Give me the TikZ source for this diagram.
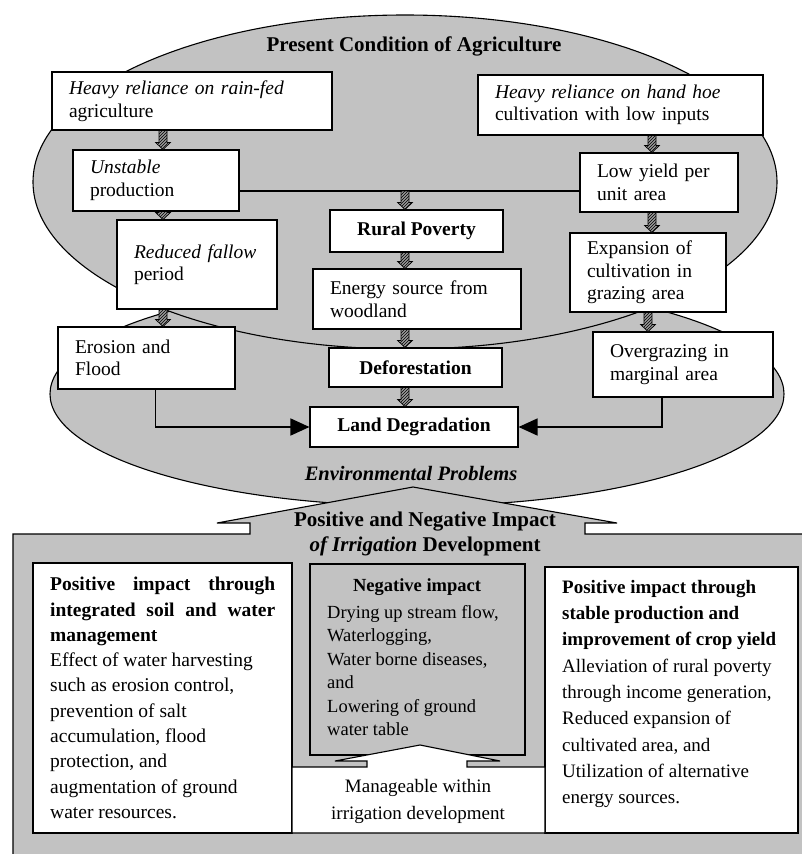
\documentclass[tikz,border=0pt]{standalone}
\usepackage{fontspec}
\setmainfont{Liberation Serif}
\usetikzlibrary{calc,arrows.meta,patterns}

\definecolor{stip}{gray}{0.76}

% short hatched block arrow pointing down, from point #1 to the height of point #2
\newcommand\harrow[2]{%
  \path let \p1=#1, \p2=#2 in
    [hatched] (\x1-4pt,\y1) -- (\x1+4pt,\y1) -- (\x1+4pt,\y2+7pt)
    -- (\x1+7.5pt,\y2+7pt) -- (\x1,\y2) -- (\x1-7.5pt,\y2+7pt)
    -- (\x1-4pt,\y2+7pt) -- cycle;}

\begin{document}
\begin{tikzpicture}[x=1pt,y=-1pt,
  zone/.style={fill=stip, draw=black, line width=1.1pt},
  box/.style={draw=black, fill=white, line width=1.1pt, inner xsep=17pt, inner ysep=0pt,
              align=left, font=\fontsize{19.5}{22.5}\selectfont},
  boldbox/.style={box, align=center, font=\fontsize{19.5}{22.5}\selectfont\bfseries},
  title/.style={inner sep=0pt, align=center, font=\fontsize{21}{25}\selectfont\bfseries},
  txt/.style={inner sep=0pt, anchor=north west, align=left},
  hatched/.style={draw=black, line width=0.7pt, preaction={fill=black!40},
                  pattern=north east lines, pattern color=black},
  bigarrow/.style={draw=black, line width=1.5pt, -{Triangle[length=19pt,width=17pt]}}]

\useasboundingbox (0,0) rectangle (802,854);
\clip (0,0) rectangle (802,854);

% --- background zones ---
\draw[zone] (417,394) ellipse [x radius=367pt, y radius=112pt];
\draw[zone] (405,182) ellipse [x radius=372pt, y radius=167pt];
\draw[zone] (13,880) -- (13,534) -- (250,534) -- (250,523) -- (217,523) -- (413,487)
  -- (617,523) -- (585,523) -- (585,534) -- (820,534) -- (820,880) -- cycle;

% --- titles ---
\node[title] (ttop) at (414,46) {Present Condition of Agriculture};
\node[title, font=\fontsize{20.5}{25}\selectfont\bfseries\itshape] (tenv) at (411,473) {Environmental Problems};
\node[title] (tirr) at (425,534) {Positive and Negative Impact\\\textit{of Irrigation} Development};

% --- present condition boxes ---
\node[box, minimum height=58pt, text width=246pt] (rain) at (192,101)
  {\textit{Heavy reliance on rain-fed}\\agriculture};
\node[box, minimum height=61pt, text width=132pt] (unstable) at (156,180.5)
  {\textit{Unstable}\\production};
\node[box, minimum height=89pt, text width=126pt] (fallow) at (197,264.5)
  {\textit{Reduced fallow}\\period};
\node[box, minimum height=60pt, text width=251pt] (hoe) at (620.5,105)
  {\textit{Heavy reliance on hand hoe}\\cultivation with low inputs};
\node[box, minimum height=59pt, text width=124pt] (lowyield) at (659,182.5)
  {Low yield per\\unit area};
\node[box, minimum height=79pt, text width=122pt] (expansion) at (648,272.5)
  {Expansion of\\cultivation in\\grazing area};
\node[boldbox, minimum height=42pt, minimum width=173pt] (rural) at (416.5,231) {Rural Poverty};
\node[box, minimum height=60pt, text width=174pt] (energy) at (417,299)
  {Energy source from\\woodland};
\node[boldbox, minimum height=39pt, minimum width=173pt] (defor) at (415.5,367.5) {Deforestation};
\node[boldbox, minimum height=40pt, minimum width=208pt] (land) at (414,427) {Land Degradation};
\node[box, minimum height=62pt, text width=143pt] (erosion) at (146.5,358)
  {Erosion and\\Flood};
\node[box, minimum height=65pt, text width=146pt] (overgraze) at (683,364.5)
  {Overgrazing in\\marginal area};

% --- connectors ---
\coordinate (split) at (405,191);
\draw[line width=1.5pt] (unstable.east |- split) -- (lowyield.west |- split);
\harrow{(split)}{(rural.north)}
\harrow{(rain.south -| 163,0)}{(unstable.north)}
\harrow{(unstable.south -| 163,0)}{(fallow.north)}
\harrow{(fallow.south -| 163,0)}{(erosion.north)}
\harrow{(hoe.south -| 652,0)}{(lowyield.north)}
\harrow{(lowyield.south -| 652,0)}{(expansion.north)}
\harrow{(expansion.south -| 648,0)}{(overgraze.north)}
\harrow{(rural.south -| 405,0)}{(energy.north)}
\harrow{(energy.south -| 405,0)}{(defor.north)}
\harrow{(defor.south -| 405,0)}{(land.north)}
\draw[bigarrow] ([xshift=9pt]erosion.south) |- (land.west);
\draw[bigarrow] ([xshift=-21pt]overgraze.south) |- (land.east);

% --- impact boxes ---
\node[box, minimum width=259pt, minimum height=270pt] (posl) at (162.5,698) {};
\node[box, minimum width=253pt, minimum height=266pt] (posr) at (671.5,700) {};
\node[zone, minimum width=215pt, minimum height=191pt, inner sep=0pt] (neg) at (417.5,659.5) {};
\path[draw=black, fill=white, line width=1.1pt]
  (292,833) -- (292,767) -- (367,767) -- (367,761) -- (335,761) -- (420,745)
  -- (500,761) -- (467,761) -- (467,767) -- (545,767) -- (545,833) -- cycle;

\node[txt, font=\fontsize{19.5}{25.3}\selectfont] (posl-t) at (50,577)
  {\textbf{\hbox to 225pt{Positive\hfill impact\hfill through}}\\
   \textbf{\hbox to 225pt{integrated\hfill soil\hfill and\hfill water}}\\
   \textbf{management}\\
   Effect of water harvesting\\
   such as erosion control,\\
   prevention of salt\\
   accumulation, flood\\
   protection, and\\
   augmentation of ground\\
   water resources.};
\node[txt, font=\fontsize{19}{26.3}\selectfont] (posr-t) at (562,580)
  {\textbf{Positive impact through}\\
   \textbf{stable production and}\\
   \textbf{improvement of crop yield}\\
   Alleviation of rural poverty\\
   through income generation,\\
   Reduced expansion of\\
   cultivated area, and\\
   Utilization of alternative\\
   energy sources.};
\node[inner sep=0pt, font=\fontsize{18.5}{23.5}\selectfont\bfseries] (neg-h) at (417,587) {Negative impact};
\node[txt, font=\fontsize{18.5}{23.5}\selectfont] (neg-t) at (327,605)
  {Drying up stream flow,\\
   Waterlogging,\\
   Water borne diseases,\\
   and\\
   Lowering of ground\\
   water table};
\node[inner sep=0pt, align=center, font=\fontsize{19}{27}\selectfont] (manage) at (418,801)
  {Manageable within\\irrigation development};

\end{tikzpicture}
\end{document}
